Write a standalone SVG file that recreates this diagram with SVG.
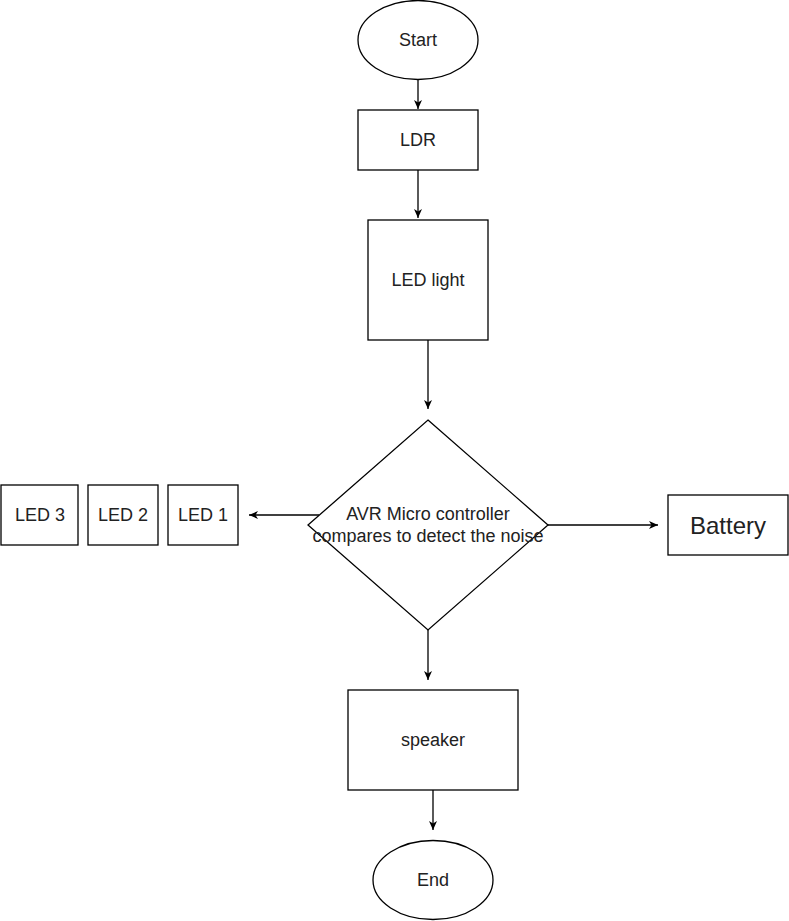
<svg xmlns="http://www.w3.org/2000/svg" width="789" height="921" viewBox="0 0 789 921">
<defs>
<marker id="arr" viewBox="0 0 10 10" refX="9" refY="5" markerWidth="10" markerHeight="10" markerUnits="userSpaceOnUse" orient="auto">
<path d="M0,1 L9,5 L0,9 L2.5,5 Z" fill="#000"/>
</marker>
</defs>
<style>
.s{fill:#fff;stroke:#000;stroke-width:1.3}
.t{font-family:"Liberation Sans",Arial,sans-serif;font-size:18px;fill:#222;text-anchor:middle;dominant-baseline:central}
.c{stroke:#000;stroke-width:1.3;fill:none;marker-end:url(#arr)}
</style>
<rect width="789" height="921" fill="#fff"/>
<g id="connectors">
<path class="c" d="M418,80 L418,109"/>
<path class="c" d="M418,170 L418,218"/>
<path class="c" d="M428,340 L428,409"/>
<path class="c" d="M319,515 L249,515"/>
<path class="c" d="M548,525 L658,525"/>
<path class="c" d="M428,630 L428,680"/>
<path class="c" d="M433,790 L433,830"/>
</g>
<g id="start"><ellipse class="s" cx="418" cy="40" rx="60" ry="39.5"/><text class="t" x="418" y="40">Start</text></g>
<g id="ldr"><rect class="s" x="358" y="110" width="120" height="60"/><text class="t" x="418" y="140">LDR</text></g>
<g id="ledlight"><rect class="s" x="368" y="220" width="120" height="120"/><text class="t" x="428" y="280">LED light</text></g>
<g id="avr"><polygon class="s" points="428,420 548,525 428,630 308,525"/><text class="t" x="428" y="514">AVR Micro controller</text><text class="t" x="428" y="536">compares to detect the noise</text></g>
<g id="led1"><rect class="s" x="168" y="485" width="70" height="60"/><text class="t" x="203" y="515">LED 1</text></g>
<g id="led2"><rect class="s" x="88" y="485" width="70" height="60"/><text class="t" x="123" y="515">LED 2</text></g>
<g id="led3"><rect class="s" x="1" y="485" width="77" height="60"/><text class="t" x="40" y="515">LED 3</text></g>
<g id="battery"><rect class="s" x="668" y="495" width="120" height="60"/><text class="t" x="728" y="525" style="font-size:24px">Battery</text></g>
<g id="speaker"><rect class="s" x="348" y="690" width="170" height="100"/><text class="t" x="433" y="740">speaker</text></g>
<g id="end"><ellipse class="s" cx="433" cy="880" rx="60" ry="39.5"/><text class="t" x="433" y="880">End</text></g>
</svg>
